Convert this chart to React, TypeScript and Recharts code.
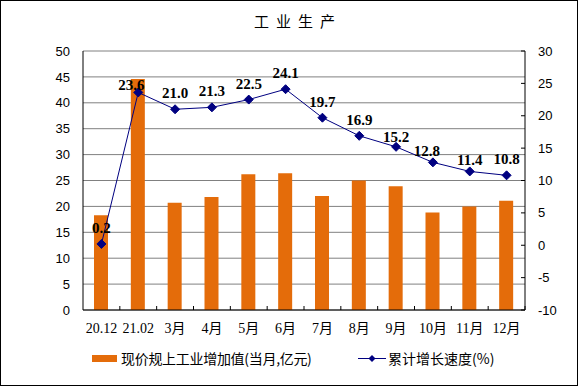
import {
  Bar,
  CartesianGrid,
  ComposedChart,
  LabelList,
  Legend,
  Line,
  XAxis,
  YAxis,
} from "recharts";

const months = [
  "20.12", "21.02", "3月", "4月", "5月", "6月",
  "7月", "8月", "9月", "10月", "11月", "12月",
];
const monthlyValue = [18.3, 44.6, 20.7, 21.8, 26.2, 26.4, 22.0, 25.0, 23.9, 18.8, 20.0, 21.1];
const cumulativeGrowth = [0.2, 23.6, 21.0, 21.3, 22.5, 24.1, 19.7, 16.9, 15.2, 12.8, 11.4, 10.8];
const leftTicks = [0, 5, 10, 15, 20, 25, 30, 35, 40, 45, 50];
const rightTicks = [-10, -5, 0, 5, 10, 15, 20, 25, 30];

const BAR_NAME = "现价规上工业增加值(当月,亿元)";
const LINE_NAME = "累计增长速度(%)";

const data = months.map((m, i) => ({
  month: m,
  value: monthlyValue[i],
  growth: cumulativeGrowth[i],
}));

const W = 580;
const H = 387;
const PLOT_LEFT = 83;
const PLOT_RIGHT = 525;
const BAND = (PLOT_RIGHT - PLOT_LEFT) / months.length;
const ORANGE = "#E46C0A";
const NAVY = "#000080";
const SERIF = "'Liberation Serif', 'Times New Roman', serif";
const SANS = "'Liberation Sans', Arial, sans-serif";
const CJK = "'Noto Sans CJK SC', sans-serif";

function MonthTick(props: any) {
  const { x, y, payload } = props;
  const text: string = payload.value;
  const hasCjk = /月/.test(text);
  return (
    <g>
      <line x1={x + BAND / 2} x2={x + BAND / 2} y1={y} y2={y - 4} stroke="#000" />
      <text
        x={x}
        y={y + 23}
        textAnchor="middle"
        fontSize={14}
        fontFamily={hasCjk ? `${SERIF}, ${CJK}` : SERIF}
        fill="#000"
      >
        {text}
      </text>
    </g>
  );
}

// a few labels sit a bit off their point in the original
const labelNudge: Record<number, [number, number]> = {
  1: [-7, 9],
  8: [0, 6],
  9: [-6, 5],
  10: [0, 5],
};

function GrowthLabel(props: any) {
  const { x, y, value, index } = props;
  const [dx, dy] = labelNudge[index] ?? [0, 0];
  return (
    <text
      x={x + dx}
      y={y - 11 + dy}
      textAnchor="middle"
      fontSize={15}
      fontWeight="bold"
      fontFamily={SERIF}
      fill="#000"
    >
      {Number(value).toFixed(1)}
    </text>
  );
}

function Diamond(props: any) {
  const { cx, cy } = props;
  if (cx == null || cy == null) return null;
  return (
    <path
      d={`M${cx},${cy - 4.5} L${cx + 4.5},${cy} L${cx},${cy + 4.5} L${cx - 4.5},${cy} Z`}
      fill={NAVY}
      stroke={NAVY}
    />
  );
}

function ChartLegend() {
  return (
    <div
      style={{
        position: "relative",
        height: 47,
        fontFamily: CJK,
        fontSize: 14,
        color: "#000",
      }}
    >
      <div style={{ position: "absolute", left: 92, top: 15, width: 25, height: 7, background: ORANGE }} />
      <div style={{ position: "absolute", left: 121, top: 8, lineHeight: "20px", whiteSpace: "nowrap", letterSpacing: -0.3 }}>
        {BAR_NAME}
      </div>
      <svg style={{ position: "absolute", left: 357, top: 13 }} width={30} height={11}>
        <line x1={1} x2={29} y1={5.5} y2={5.5} stroke={NAVY} />
        <path d="M15,2 L18.5,5.5 L15,9 L11.5,5.5 Z" fill={NAVY} />
      </svg>
      <div style={{ position: "absolute", left: 388, top: 8, lineHeight: "20px", whiteSpace: "nowrap" }}>
        {LINE_NAME}
      </div>
    </div>
  );
}

export default function App() {
  return (
    <div
      style={{
        position: "absolute",
        left: 0,
        top: 0,
        width: W,
        height: H,
        background: "#fff",
      }}
    >
      <div
        style={{
          position: "absolute",
          left: 0,
          top: 0,
          width: 578,
          height: 386,
          boxSizing: "border-box",
          border: "1px solid #000",
        }}
      />
      <div
        style={{
          position: "absolute",
          left: 0,
          width: 596,
          top: 11,
          textAlign: "center",
          fontFamily: CJK,
          fontSize: 15,
          letterSpacing: 7,
          lineHeight: "20px",
          color: "#000",
        }}
      >
        工业生产
      </div>
      <ComposedChart
        width={W}
        height={H}
        data={data}
        margin={{ top: 51, right: 0, bottom: 0, left: 0 }}
        barCategoryGap={0}
      >
        <CartesianGrid
          yAxisId="left"
          vertical={false}
          stroke="#808080"
          strokeWidth={1}
        />
        <XAxis
          dataKey="month"
          tick={<MonthTick />}
          tickLine={false}
          tickSize={0}
          tickMargin={0}
          height={30}
          stroke="#000"
          interval={0}
        />
        <YAxis
          yAxisId="left"
          width={83}
          domain={[0, 50]}
          ticks={leftTicks}
          tickLine={false}
          tickMargin={7}
          stroke="#000"
          tick={{ fontSize: 13, fontFamily: SANS, fill: "#000" }}
          allowDataOverflow
        />
        <YAxis
          yAxisId="right"
          orientation="right"
          width={55}
          domain={[-10, 30]}
          ticks={rightTicks}
          tickSize={-4}
          tickMargin={17}
          stroke="#000"
          tick={{ fontSize: 13, fontFamily: SANS, fill: "#000", textAnchor: "start" }}
          allowDataOverflow
        />
        <Legend verticalAlign="bottom" height={47} content={<ChartLegend />} />
        <Bar
          yAxisId="left"
          dataKey="value"
          name={BAR_NAME}
          fill={ORANGE}
          barSize={14}
          isAnimationActive={false}
        />
        <Line
          yAxisId="right"
          dataKey="growth"
          name={LINE_NAME}
          stroke={NAVY}
          strokeWidth={1}
          dot={<Diamond />}
          activeDot={false}
          isAnimationActive={false}
        >
          <LabelList dataKey="growth" content={<GrowthLabel />} />
        </Line>
      </ComposedChart>
    </div>
  );
}
